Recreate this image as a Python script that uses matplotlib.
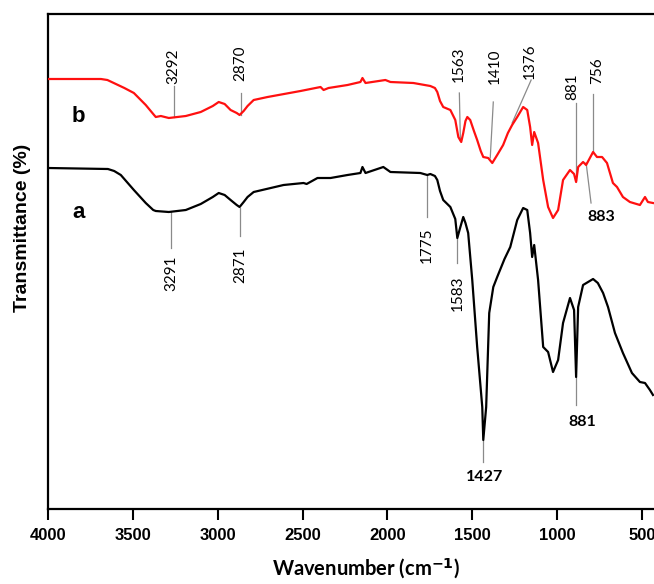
import matplotlib
matplotlib.use("Agg")
import matplotlib.pyplot as plt

# ---- data (wavenumber cm-1, transmittance a.u.) ----
wn_b = [4000, 3688, 3650, 3600, 3550, 3494, 3424, 3380, 3365, 3335, 3288, 3188, 3100, 3029, 2994, 2959,
        2924, 2888, 2871, 2847, 2824, 2788, 2706, 2512, 2394, 2376, 2347, 2235, 2159, 2147, 2129, 2012,
        1982, 1847, 1747, 1720, 1706, 1690, 1671, 1629, 1600, 1582, 1565, 1553, 1540, 1529, 1512, 1490,
        1471, 1450, 1435, 1406, 1382, 1353, 1318, 1290, 1265, 1235, 1200, 1176, 1159, 1147, 1135, 1112,
        1082, 1053, 1024, 994, 965, 924, 900, 888, 876, 847, 829, 788, 765, 735, 706, 671, 647, 612,
        571, 512, 482, 465, 435]
t_b = [430, 430, 429, 425, 421, 416, 404, 395, 392, 393, 391, 393, 397, 403, 407, 405,
       399, 396, 394, 398, 403, 409, 412, 418, 422, 419, 421, 424, 427, 431, 426, 429,
       427, 426, 423, 421, 417, 408, 402, 399, 389, 372, 367, 376, 388, 392, 389, 378,
       369, 358, 352, 351, 346, 354, 364, 376, 384, 392, 402, 399, 382, 364, 377, 366,
       329, 302, 291, 299, 329, 339, 335, 327, 342, 347, 344, 357, 352, 352, 346, 326, 322, 312,
       307, 304, 312, 307, 306]

wn_a = [4000, 3647, 3610, 3571, 3494, 3424, 3380, 3365, 3288, 3188, 3100, 3029, 2994, 2959, 2924, 2888,
        2871, 2847, 2824, 2788, 2612, 2494, 2476, 2412, 2335, 2235, 2159, 2147, 2129, 2024, 1982, 1806,
        1765, 1747, 1720, 1706, 1690, 1671, 1629, 1600, 1588, 1570, 1553, 1540, 1524, 1500, 1471, 1441,
        1435, 1418, 1400, 1376, 1353, 1310, 1276, 1235, 1200, 1176, 1159, 1147, 1135, 1112, 1082, 1053,
        1024, 994, 965, 924, 900, 888, 876, 847, 788, 760, 729, 700, 659, 612, 559, 512, 482, 453, 435]
t_a = [341, 340, 338, 334, 319, 306, 299, 298, 297, 299, 305, 312, 316, 314, 309, 304,
       302, 307, 312, 317, 324, 326, 325, 331, 331, 334, 336, 342, 336, 342, 337, 336,
       334, 335, 333, 329, 318, 309, 302, 290, 271, 282, 292, 286, 276, 229, 162, 102,
       69, 102, 196, 222, 232, 250, 262, 289, 301, 299, 276, 252, 264, 229, 162, 157,
       137, 149, 186, 211, 199, 132, 202, 224, 230, 226, 216, 202, 176, 156, 136, 127, 126, 119, 114]

xticks = [4000, 3500, 3000, 2500, 2000, 1500, 1000, 500]

# rotated annotations: (text, text_wn, text_y, line_wn_top, line_y_top, line_wn_bot, line_y_bot)
rot_labels = [
    ("3292", 3259, 443, 3259, 423, 3259, 392),
    ("2870", 2865, 446, 2865, 416, 2865, 394),
    ("1563", 1582, 445, 1576, 416, 1570, 369),
    ("1410", 1365, 443, 1376, 407, 1394, 351),
    ("1376", 1159, 448, 1153, 429, 1265, 386),
    ("881", 912, 422, 888, 406, 888, 329),
    ("756", 765, 438, 788, 415, 788, 358),
    ("3291", 3276, 236, 3276, 297, 3276, 261),
    ("2871", 2865, 244, 2871, 301, 2871, 273),
    ("1775", 1765, 264, 1765, 334, 1765, 292),
    ("1583", 1588, 216, 1588, 271, 1588, 246),
]
# horizontal annotations
hor_labels = [
    ("883", 741, 292, 829, 346, 800, 306),
    ("1427", 1429, 32, 1435, 69, 1435, 47),
    ("881", 853, 87, 888, 132, 888, 104),
]

fig = plt.figure(figsize=(6.54, 5.84), dpi=100)
ax = fig.add_axes([48 / 654, 75 / 584, 1 - 48 / 654, 495 / 584])

ax.plot(wn_b, t_b, color="#ff1010", lw=1.6, zorder=3, solid_joinstyle="round")
ax.plot(wn_a, t_a, color="black", lw=1.6, zorder=3, solid_joinstyle="round")

ax.set_xlim(4000, 429)
ax.set_ylim(0, 495)

for txt, tx, ty, x1, y1, x2, y2 in rot_labels:
    ax.plot([x1, x2], [y1, y2], color="#8a8a8a", lw=0.9, zorder=2)
    ax.text(tx, ty, txt, rotation=90, ha="center", va="center", fontsize=11,
            family="Lato", color="black")
for txt, tx, ty, x1, y1, x2, y2 in hor_labels:
    ax.plot([x1, x2], [y1, y2], color="#8a8a8a", lw=0.9, zorder=2)
    ax.text(tx, ty, txt, ha="center", va="center", fontsize=11.5,
            family="Lato", fontweight="bold", color="black")

ax.text(3822, 392, "b", fontsize=16, fontweight="bold", family="Liberation Sans",
        ha="center", va="center")
ax.text(3822, 296, "a", fontsize=16, fontweight="bold", family="Liberation Sans",
        ha="center", va="center")

ax.set_xticks(xticks)
ax.set_xticklabels([str(v) for v in xticks], fontsize=12, fontweight="bold",
                   family="Liberation Sans")
ax.set_yticks([])
ax.tick_params(axis="x", direction="out", length=8, width=1.5, pad=6)
for s in ["top", "left", "bottom"]:
    ax.spines[s].set_linewidth(1.6)
ax.spines["right"].set_visible(False)

ax.set_xlabel("Wavenumber (cm$^{\\mathbf{-1}}$)", fontsize=14.5, fontweight="bold",
              family="Lato")
ax.xaxis.set_label_coords((366 - 48) / 606, (509 - 569) / 495)
ax.xaxis.label.set_va("center")
ax.set_ylabel("Transmittance (%)", fontsize=14, fontweight="bold",
              family="Liberation Sans")
ax.yaxis.set_label_coords((23 - 48) / 606, (509 - 228) / 495)
ax.yaxis.label.set_va("center")

fig.savefig("out.png", dpi=100)
